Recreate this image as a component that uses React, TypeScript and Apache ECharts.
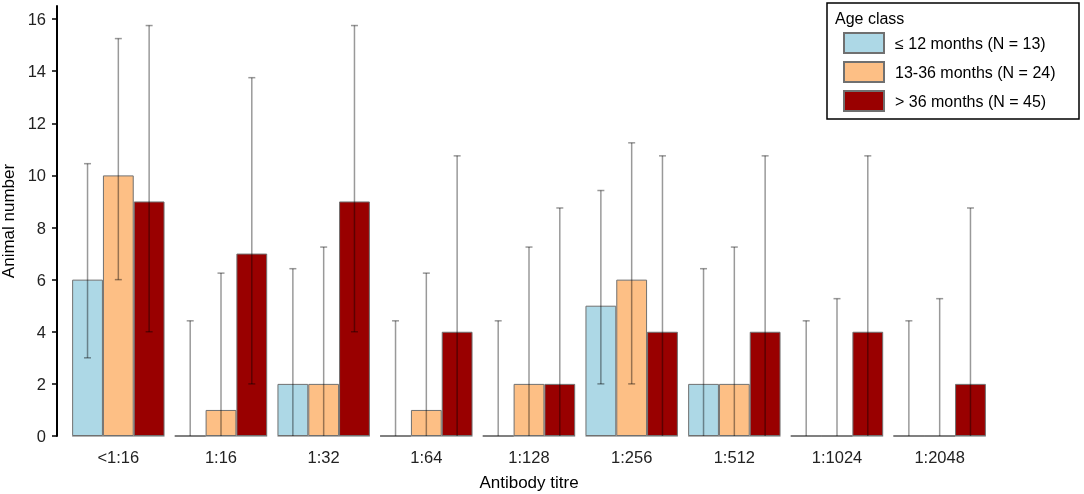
import React, { useEffect, useRef } from "react";
import * as echarts from "echarts";

const categories = ["<1:16", "1:16", "1:32", "1:64", "1:128", "1:256", "1:512", "1:1024", "1:2048"];
const seriesNames = ["≤ 12 months (N = 13)", "13-36 months (N = 24)", "> 36 months (N = 45)"];
const youngValues = [6, 0, 2, 0, 0, 5, 2, 0, 0];
const midValues = [10, 1, 2, 1, 2, 6, 2, 0, 0];
const oldValues = [9, 7, 9, 4, 2, 4, 4, 4, 2];
const youngLow = [3, 0, 0, 0, 0, 2, 0, 0, 0];
const youngHigh = [10.45, 4.42, 6.42, 4.42, 4.42, 9.42, 6.42, 4.42, 4.42];
const midLow = [6, 0, 0, 0, 0, 2, 0, 0, 0];
const midHigh = [15.25, 6.25, 7.25, 6.25, 7.25, 11.25, 7.25, 5.27, 5.27];
const oldLow = [4, 2, 4, 0, 0, 0, 0, 0, 0];
const oldHigh = [15.75, 13.75, 15.75, 10.75, 8.75, 10.75, 10.75, 10.75, 8.75];
const yTicks = [0, 2, 4, 6, 8, 10, 12, 14, 16];

const colors = ["#ADD8E6", "#FDBF85", "#990000"];
const FONT = "'Liberation Sans', Arial, Helvetica, sans-serif";
const GAP = 0.1;

export default function App() {
  const ref = useRef<HTMLDivElement>(null);
  useEffect(() => {
    if (!ref.current) return;
    const chart = echarts.init(ref.current, undefined, { renderer: "svg" });

    const values = [youngValues, midValues, oldValues];
    const lows = [youngLow, midLow, oldLow];
    const highs = [youngHigh, midHigh, oldHigh];

    const errorSeries = [0, 1, 2].map((k) => ({
      type: "custom",
      name: "err" + k,
      z: 5,
      silent: true,
      data: categories.map((_, i) => [i, lows[k][i], highs[k][i]]),
      encode: { x: 0, y: [1, 2] },
      renderItem: (params: any, api: any) => {
        const idx = api.value(0);
        const lowVal = api.value(1);
        const lo = api.coord([idx, lowVal]);
        const hi = api.coord([idx, api.value(2)]);
        const band = api.size([1, 0])[0];
        const barW = (band * (1 - GAP)) / 3;
        const x = lo[0] + (k - 1) * barW;
        const cap = 3.5;
        const style = { stroke: "rgba(0,0,0,0.4)", lineWidth: 1.5 };
        const children: any[] = [
          { type: "line", shape: { x1: x, y1: lo[1], x2: x, y2: hi[1] }, style },
          { type: "line", shape: { x1: x - cap, y1: hi[1], x2: x + cap, y2: hi[1] }, style },
        ];
        if (lowVal > 0) {
          children.push({ type: "line", shape: { x1: x - cap, y1: lo[1], x2: x + cap, y2: lo[1] }, style });
        }
        return { type: "group", children };
      },
    }));

    const baseSeries = {
      type: "custom",
      name: "base",
      z: 1,
      silent: true,
      data: categories.map((_, i) => [i, 0]),
      renderItem: (params: any, api: any) => {
        const p = api.coord([api.value(0), 0]);
        const band = api.size([1, 0])[0];
        const half = (band * (1 - GAP)) / 2;
        return {
          type: "line",
          shape: { x1: p[0] - half, y1: p[1], x2: p[0] + half, y2: p[1] },
          style: { stroke: "#999999", lineWidth: 1.5 },
        };
      },
    };

    const barSeries = [0, 1, 2].map((k) => ({
      type: "bar",
      name: seriesNames[k],
      z: 2,
      data: values[k],
      barGap: "0%",
      barCategoryGap: GAP * 100 + "%",
      itemStyle: { color: colors[k], borderColor: "#707070", borderWidth: 1 },
      emphasis: { disabled: true },
    }));

    chart.setOption({
      animation: false,
      grid: { left: 67, right: 93, top: 6, bottom: 58, containLabel: false, outerBoundsMode: "none" },
      legend: {
        data: seriesNames,
        orient: "vertical",
        left: 843,
        top: 32,
        padding: 0,
        itemWidth: 40,
        itemHeight: 20,
        itemGap: 7,
        icon: "rect",
        selectedMode: false,
        textStyle: { fontSize: 16, color: "#000", fontFamily: FONT, padding: [0, 0, 0, 6] },
      },
      graphic: [
        {
          type: "rect",
          z: -1,
          shape: { x: 827, y: 3, width: 252, height: 116 },
          style: { fill: "#fff", stroke: "#000", lineWidth: 1.5 },
        },
        {
          type: "text",
          x: 835,
          y: 18,
          style: { text: "Age class", fontSize: 16, fontFamily: FONT, fill: "#000", verticalAlign: "middle" },
        },
      ],
      xAxis: {
        type: "category",
        data: categories,
        axisLine: { show: false },
        axisTick: { show: false },
        axisLabel: { fontSize: 16.5, color: "#222", fontFamily: FONT, margin: 12 },
        name: "Antibody titre",
        nameLocation: "middle",
        nameGap: 38,
        nameTextStyle: { fontSize: 17, color: "#000", fontFamily: FONT },
      },
      yAxis: {
        type: "value",
        min: 0,
        max: 16.5,
        offset: 10,
        axisLine: { show: true, lineStyle: { color: "#000", width: 2 } },
        axisTick: { show: true, length: 5, lineStyle: { color: "#000", width: 1.5 }, customValues: yTicks },
        axisLabel: { fontSize: 16.5, color: "#222", fontFamily: FONT, margin: 11, customValues: yTicks },
        splitLine: { show: false },
        name: "Animal number",
        nameLocation: "middle",
        nameGap: 32,
        nameTextStyle: { fontSize: 17, color: "#000", fontFamily: FONT },
      },
      series: [baseSeries, ...barSeries, ...errorSeries],
    });
    return () => chart.dispose();
  }, []);
  return <div ref={ref} style={{ position: "fixed", left: 0, top: 0, width: 1084, height: 494 }} />;
}
